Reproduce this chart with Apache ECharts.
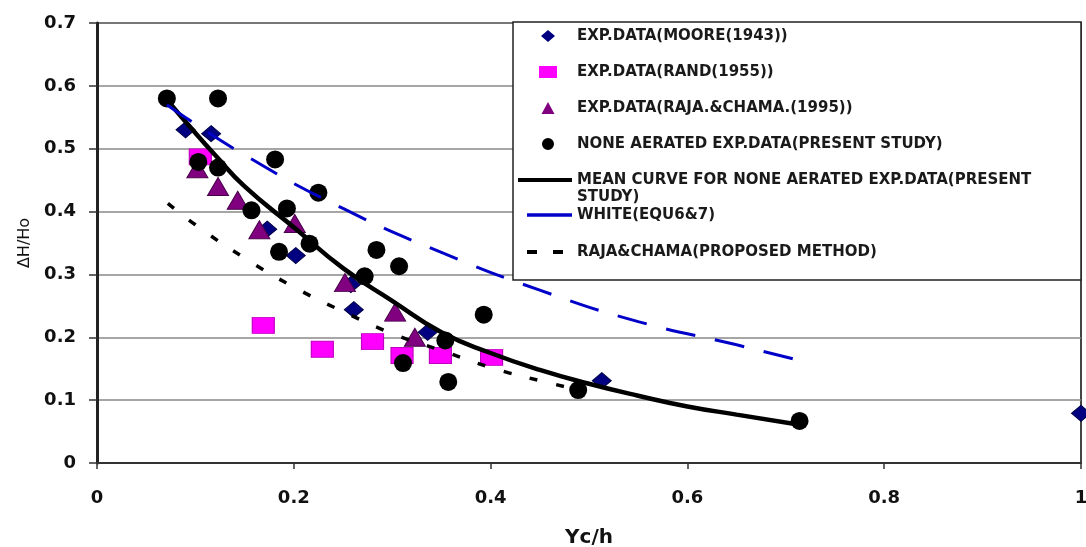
<!DOCTYPE html>
<html>
<head>
<meta charset="utf-8">
<script src="https://cdn.jsdelivr.net/npm/echarts@6/dist/echarts.min.js"></script>
<style>html,body{margin:0;padding:0;background:#fff;}#c{width:1086px;height:547px;}</style>
</head>
<body>
<div id="c"></div>
<script>
// ---- data ----
var xTicks = ['0', '0.2', '0.4', '0.6', '0.8', '1'];
var yTicks = ['0', '0.1', '0.2', '0.3', '0.4', '0.5', '0.6', '0.7'];

var mooreX = [0.090, 0.116, 0.173, 0.202, 0.258, 0.261, 0.336, 0.513, 1.000];
var mooreY = [0.530, 0.524, 0.372, 0.330, 0.284, 0.244, 0.208, 0.131, 0.079];

var randX = [0.105, 0.169, 0.229, 0.280, 0.310, 0.349, 0.401];
var randY = [0.487, 0.219, 0.181, 0.193, 0.171, 0.171, 0.168];

var raja95X = [0.102, 0.123, 0.143, 0.165, 0.201, 0.252, 0.303, 0.323];
var raja95Y = [0.468, 0.440, 0.418, 0.371, 0.381, 0.287, 0.240, 0.200];

var presentX = [0.071, 0.123, 0.103, 0.123, 0.181, 0.157, 0.193, 0.225, 0.216, 0.185, 0.272, 0.284, 0.307, 0.393, 0.354, 0.311, 0.357, 0.489, 0.714];
var presentY = [0.580, 0.580, 0.479, 0.470, 0.483, 0.402, 0.405, 0.430, 0.349, 0.336, 0.297, 0.339, 0.313, 0.236, 0.195, 0.159, 0.129, 0.116, 0.067];

var meanX = [0.071, 0.100, 0.120, 0.150, 0.200, 0.250, 0.300, 0.350, 0.400, 0.450, 0.500, 0.550, 0.600, 0.650, 0.714];
var meanY = [0.578, 0.525, 0.490, 0.440, 0.375, 0.310, 0.258, 0.208, 0.175, 0.148, 0.126, 0.107, 0.090, 0.077, 0.061];

var whiteX = [0.071, 0.150, 0.250, 0.350, 0.450, 0.550, 0.650, 0.714];
var whiteY = [0.570, 0.490, 0.405, 0.335, 0.275, 0.225, 0.188, 0.163];

var rajaPX = [0.072, 0.100, 0.150, 0.200, 0.250, 0.300, 0.350, 0.400, 0.450, 0.488];
var rajaPY = [0.413, 0.379, 0.326, 0.280, 0.241, 0.206, 0.179, 0.152, 0.131, 0.117];

var names = [
  'EXP.DATA(MOORE(1943))',
  'EXP.DATA(RAND(1955))',
  'EXP.DATA(RAJA.&CHAMA.(1995))',
  'NONE AERATED EXP.DATA(PRESENT STUDY)',
  'MEAN CURVE FOR NONE AERATED EXP.DATA(PRESENT\nSTUDY)',
  'WHITE(EQU6&7)',
  'RAJA&CHAMA(PROPOSED METHOD)'
];

var colMoore = '#000080', colRand = '#ff00ff', colRaja = '#800080', colBlack = '#000', colWhite = '#0000c8';

function pairs(xs, ys) { return xs.map(function (x, i) { return [x, ys[i]]; }); }

var FONT = 'DejaVu Sans, Verdana, sans-serif';
var chart = echarts.init(document.getElementById('c'), null, { renderer: 'canvas' });
var lblFont = { fontFamily: FONT, fontWeight: 'bold', fontSize: 18, color: '#111' };
var legText = { fontFamily: FONT, fontWeight: 'bold', fontSize: 15, color: '#1a1a1a', lineHeight: 17 };

// legend icon boxes span the full icon width (invisible end points keep the box 54 x 12)
var EDGE = 'M0,6L0,6.01M54,6L54,6.01';

chart.setOption({
  animation: false,
  backgroundColor: '#fff',
  grid: { left: 97, right: 5, top: 23, bottom: 84, show: true, borderColor: '#444', borderWidth: 2, outerBoundsMode: 'none', containLabel: false },
  graphic: [{
    type: 'rect', z: 3,
    shape: { x: 513, y: 22, width: 568, height: 258 },
    style: { fill: '#fff', stroke: '#222', lineWidth: 1.5 }
  }],
  legend: [{
    data: [
      { name: names[0], icon: 'path://' + EDGE + 'M30,0L37,6L30,12L23,6Z', itemStyle: { color: colMoore, borderWidth: 0 } },
      { name: names[1], icon: 'path://' + EDGE + 'M21,0H39V12H21Z', itemStyle: { color: colRand, borderWidth: 0 } },
      { name: names[2], icon: 'path://' + EDGE + 'M30,0L36.5,12H23.5Z', itemStyle: { color: colRaja, borderWidth: 0 } },
      { name: names[3], icon: 'path://' + EDGE + 'M24,6A6,6 0 1 1 36,6A6,6 0 1 1 24,6Z', itemStyle: { color: colBlack, borderWidth: 0 } }
    ],
    orient: 'vertical', left: 518, top: 27.5, padding: 0,
    itemWidth: 54, itemHeight: 12, itemGap: 19,
    textStyle: legText, z: 5
  }, {
    data: [
      { name: names[4], icon: 'path://M0,0L0,0.01M0,0.5H54V4.5H0ZM0,22L0,22.01', itemStyle: { color: colBlack, borderWidth: 0 } }
    ],
    orient: 'vertical', left: 518, top: 171.5, padding: 0,
    itemWidth: 54, itemHeight: 22, itemGap: 19,
    textStyle: legText, z: 5
  }, {
    data: [
      { name: names[5], icon: 'path://M0,0H45V3.5H0Z', itemStyle: { color: colWhite, borderWidth: 0 } },
      { name: names[6], icon: 'path://M0,0H10V4H0ZM26,0H36V4H26ZM45,2L45,2.01', itemStyle: { color: colBlack, borderWidth: 0 } }
    ],
    orient: 'vertical', left: 527, top: 206.5, padding: 0,
    itemWidth: 45, itemHeight: 12, itemGap: 20,
    textStyle: legText, z: 5
  }],
  xAxis: {
    type: 'value', min: 0, max: 1, interval: 0.2,
    name: 'Yc/h', nameLocation: 'middle', nameGap: 65,
    nameTextStyle: { fontFamily: FONT, fontWeight: 'bold', fontSize: 20, color: '#111' },
    axisLine: { show: true, lineStyle: { color: '#333', width: 2 } },
    axisTick: { show: true, inside: false, length: 6, lineStyle: { color: '#333', width: 1.5 } },
    axisLabel: Object.assign({ margin: 26, formatter: function (v) { return xTicks[Math.round(v / 0.2)]; } }, lblFont),
    splitLine: { show: false }
  },
  yAxis: {
    type: 'value', min: 0, max: 0.7, interval: 0.1,
    name: 'ΔH/Ho', nameLocation: 'middle', nameGap: 64, nameRotate: 90,
    nameTextStyle: { fontFamily: FONT, fontSize: 16, color: '#111' },
    axisLine: { show: true, lineStyle: { color: '#222', width: 3 } },
    axisTick: { show: true, inside: false, length: 8, lineStyle: { color: '#333', width: 1.5 } },
    axisLabel: Object.assign({ margin: 21, formatter: function (v) { return yTicks[Math.round(v / 0.1)]; } }, lblFont),
    splitLine: { show: true, lineStyle: { color: '#888', width: 1.5 } }
  },
  series: [{
    name: names[0], type: 'scatter', data: pairs(mooreX, mooreY),
    symbol: 'diamond', symbolSize: [19, 16],
    itemStyle: { color: colMoore, borderColor: '#00004a', borderWidth: 1, opacity: 1 }
  }, {
    name: names[1], type: 'scatter', data: pairs(randX, randY),
    symbol: 'rect', symbolSize: [22, 16],
    itemStyle: { color: colRand, borderColor: '#c000c0', borderWidth: 1, opacity: 1 }
  }, {
    name: names[2], type: 'scatter', data: pairs(raja95X, raja95Y),
    symbol: 'triangle', symbolSize: [21, 18],
    itemStyle: { color: colRaja, borderColor: '#4a004a', borderWidth: 1, opacity: 1 }
  }, {
    name: names[3], type: 'scatter', data: pairs(presentX, presentY),
    symbol: 'circle', symbolSize: 18,
    itemStyle: { color: colBlack, opacity: 1 }
  }, {
    name: names[4], type: 'line', data: pairs(meanX, meanY), smooth: true,
    symbol: 'none', itemStyle: { color: colBlack }, lineStyle: { color: colBlack, width: 4.5 }
  }, {
    name: names[5], type: 'line', data: pairs(whiteX, whiteY), smooth: true,
    symbol: 'none', itemStyle: { color: colWhite }, lineStyle: { color: colWhite, width: 3, type: [30, 20] }
  }, {
    name: names[6], type: 'line', data: pairs(rajaPX, rajaPY), smooth: true,
    symbol: 'none', itemStyle: { color: colBlack }, lineStyle: { color: colBlack, width: 3.5, type: [8, 19] }
  }]
});
</script>
</body>
</html>
